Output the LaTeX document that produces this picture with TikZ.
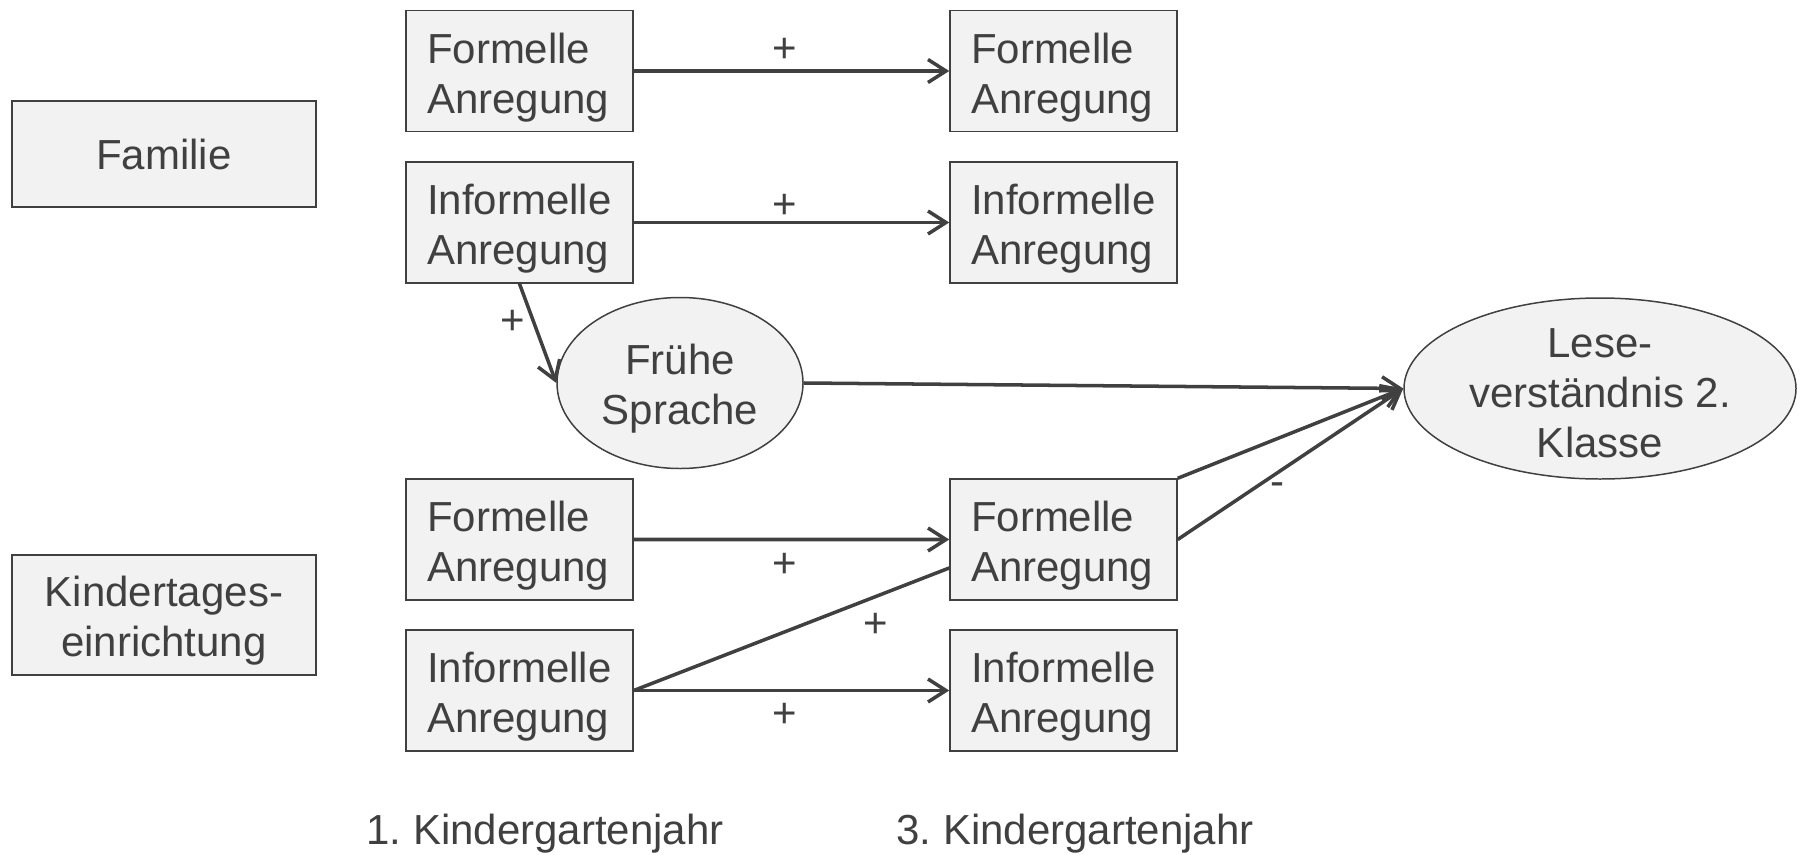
\documentclass[tikz,border=0pt]{standalone}
\usepackage{fontspec}
\setmainfont{Liberation Sans}
\usetikzlibrary{shapes.geometric,arrows.meta}
\definecolor{dunkel}{HTML}{404040}
\definecolor{hell}{HTML}{F2F2F2}
\begin{document}
\begin{tikzpicture}[scale=0.2]
\tikzstyle{every node}+=[text=dunkel, font=\fontsize{23.9}{28.45}\selectfont]
\tikzstyle{kasten}=[draw=dunkel, line width=0.85pt, fill=hell, minimum height=2.42cm, text width=3.7cm, inner xsep=0.42cm, inner ysep=0pt, align=left, text height=17.4pt, text depth=26.5pt]
\tikzstyle{gruppe}=[draw=dunkel, line width=0.85pt, fill=hell, minimum width=6.08cm, align=center]
\tikzstyle{latent}=[ellipse, draw=dunkel, line width=0.85pt, fill=hell, inner sep=0pt, align=center]
\tikzstyle{pfeil}=[dunkel, line width=2pt, -{Straight Barb[length=3.6mm,width=4.6mm]}]
\tikzstyle{pfad}=[dunkel, line width=2pt]
\useasboundingbox (0,0) rectangle (180.2,-85.4);
% Kontexte
\node [gruppe, minimum height=2.12cm] (familie) at (16.4,-15.4) {Familie};
\node [gruppe, minimum height=2.4cm, text height=52.6pt, text depth=5pt] (kita) at (16.4,-61.5) {Kindertages-\\einrichtung};
% 1. und 3. Kindergartenjahr
\node [kasten] (famformell1) at (51.95,-7.1) {Formelle\\Anregung};
\node [kasten] (faminformell1) at (51.95,-22.25) {Informelle\\Anregung};
\node [kasten] (famformell3) at (106.35,-7.1) {Formelle\\Anregung};
\node [kasten] (faminformell3) at (106.35,-22.25) {Informelle\\Anregung};
\node [kasten] (kitaformell1) at (51.95,-53.95) {Formelle\\Anregung};
\node [kasten] (kitainformell1) at (51.95,-69.05) {Informelle\\Anregung};
\node [kasten] (kitaformell3) at (106.35,-53.95) {Formelle\\Anregung};
\node [kasten] (kitainformell3) at (106.35,-69.05) {Informelle\\Anregung};
\node [latent, minimum width=4.92cm, minimum height=3.42cm, text height=52.6pt, text depth=5pt] (sprache) at (68,-38.3) {Frühe\\Sprache};
\node [latent, minimum width=7.84cm, minimum height=3.62cm, inner ysep=-3.5pt, text height=78.3pt, text depth=0pt] (lese) at (160,-38.85) {Lese-\\verständnis 2.\\Klasse};
\node [anchor=base west, inner sep=0pt] (jahr1) at (36.6,-84.4) {1.\ Kindergartenjahr};
\node [anchor=base west, inner sep=0pt] (jahr3) at (89.6,-84.4) {3.\ Kindergartenjahr};
% Pfade
\draw [pfeil] (famformell1) -- (famformell3);
\draw [pfeil] (faminformell1) -- (faminformell3);
\draw [pfeil] (faminformell1.south) -- (sprache.west);
\draw [pfeil] (sprache.east) -- (lese.west);
\draw [pfeil] (kitaformell1) -- (kitaformell3);
\draw [pfeil] (kitainformell1) -- (kitainformell3);
\draw [pfad] (kitainformell1.east) -- (kitaformell3.194);
\draw [pfeil] (kitaformell3.north east) -- (lese.west);
\draw [pfeil] (kitaformell3.east) -- (lese.west);
% Vorzeichen
\node (plus1) at (78.5,-5.0) {+};
\node (plus2) at (78.5,-20.6) {+};
\node (plus3) at (51.3,-32.2) {+};
\node (plus4) at (78.5,-56.5) {+};
\node (plus5) at (78.5,-71.5) {+};
\node (plus6) at (87.6,-62.5) {+};
\node (minus1) at (127.7,-48.9) {-};
\end{tikzpicture}
\end{document}
